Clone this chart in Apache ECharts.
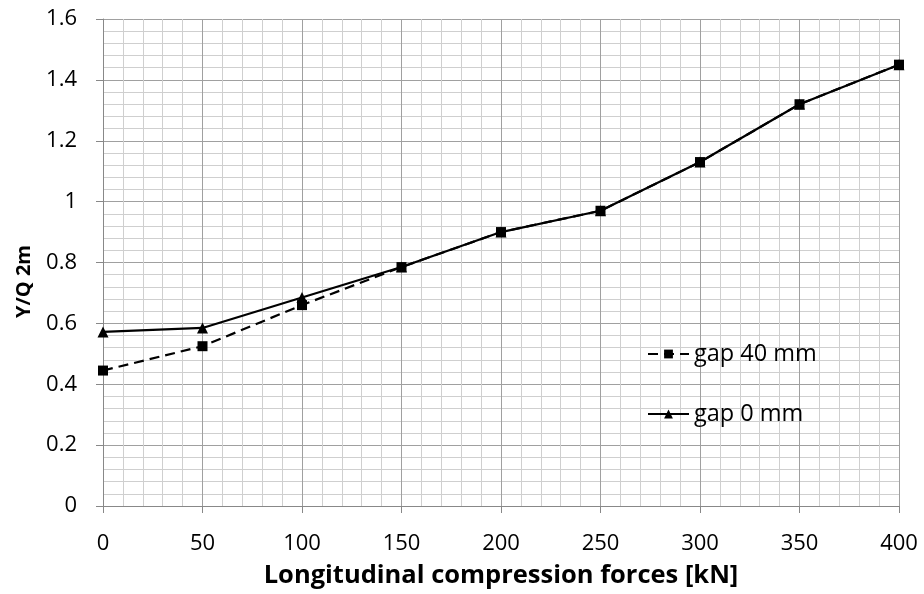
<!DOCTYPE html>
<html>
<head>
<meta charset="utf-8">
<script src="https://cdn.jsdelivr.net/npm/echarts@6/dist/echarts.min.js"></script>
<style>
  html, body { margin: 0; padding: 0; background: #fff; }
  #box { width: 924px; height: 594px; }
</style>
</head>
<body>
<div id="box"></div>
<script>
var forces = [0, 50, 100, 150, 200, 250, 300, 350, 400];
var gap40 = [0.445, 0.525, 0.66, 0.785, 0.90, 0.97, 1.13, 1.32, 1.45];
var gap0 = [0.572, 0.585, 0.685, 0.785, 0.90, 0.97, 1.13, 1.32, 1.45];
var seriesNames = ['gap 40 mm', 'gap 0 mm'];

function pairs(xs, ys) {
    var out = [];
    for (var i = 0; i < xs.length; i++) {
        out.push([xs[i], ys[i]]);
    }
    return out;
}

var myChart = echarts.init(document.getElementById('box'));
var font = '"Open Sans", "Liberation Sans", sans-serif';

myChart.setOption({
    animation: false,
    textStyle: { fontFamily: font },
    grid: { left: 103, right: 25, top: 19, bottom: 87 },
    legend: {
        data: seriesNames,
        orient: 'vertical',
        left: 642,
        top: 336,
        itemGap: 34,
        itemWidth: 41,
        itemHeight: 11,
        textStyle: { fontSize: 23.5, lineHeight: 26, color: '#000', fontFamily: font }
    },
    xAxis: {
        type: 'value',
        min: 0,
        max: 400,
        interval: 50,
        name: 'Longitudinal compression forces [kN]',
        nameLocation: 'middle',
        nameGap: 57,
        nameTextStyle: { fontSize: 25.5, fontWeight: 'bold', color: '#000' },
        axisLine: { show: true, lineStyle: { color: '#888', width: 1 } },
        axisTick: { show: true, length: 7, lineStyle: { color: '#888' } },
        axisLabel: { fontSize: 22, color: '#000', margin: 27 },
        splitLine: { show: true, lineStyle: { color: '#a0a0a0', width: 1 } },
        minorTick: { show: false, splitNumber: 5 },
        minorSplitLine: { show: true, lineStyle: { color: '#cfcfcf', width: 1 } }
    },
    yAxis: {
        type: 'value',
        min: 0,
        max: 1.6,
        interval: 0.2,
        name: 'Y/Q 2m',
        nameLocation: 'middle',
        nameGap: 69,
        nameTextStyle: { fontSize: 20, fontWeight: 'bold', color: '#000', padding: [0, 38, 0, 0] },
        axisLine: { show: true, lineStyle: { color: '#888', width: 1 } },
        axisTick: { show: true, length: 7, lineStyle: { color: '#888' } },
        axisLabel: { fontSize: 22, color: '#000', margin: 26 },
        splitLine: { show: true, lineStyle: { color: '#a0a0a0', width: 1 } },
        minorTick: { show: false, splitNumber: 5 },
        minorSplitLine: { show: true, lineStyle: { color: '#cfcfcf', width: 1 } }
    },
    series: [
        {
            name: 'gap 0 mm',
            type: 'line',
            data: pairs(forces, gap0),
            symbol: 'triangle',
            symbolSize: 11,
            color: '#000',
            itemStyle: { color: '#000' },
            lineStyle: { color: '#000', width: 2.2 }
        },
        {
            name: 'gap 40 mm',
            type: 'line',
            data: pairs(forces, gap40),
            symbol: 'rect',
            symbolSize: 10,
            color: '#000',
            itemStyle: { color: '#000' },
            lineStyle: { color: '#000', width: 2.2, type: [10, 6] }
        }
    ]
});
</script>
</body>
</html>
